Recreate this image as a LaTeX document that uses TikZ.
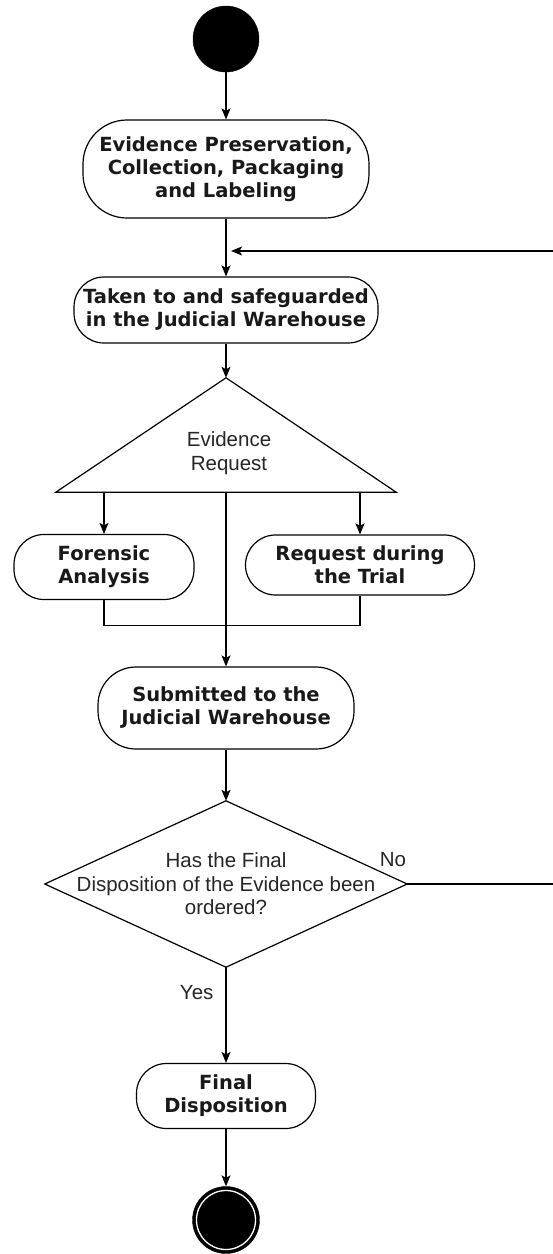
\documentclass[tikz,border=0pt]{standalone}
\usepackage{fontspec}
\newfontfamily\boldface{DejaVu Sans}
\newfontfamily\plainface{Liberation Sans}
\usetikzlibrary{arrows.meta,positioning}
\tikzset{
  act/.style={draw=black,line width=1.2pt,rounded corners=30pt,fill=white,align=center,
    font=\boldface\bfseries\fontsize{19.5}{23}\selectfont,inner sep=0pt,text=black!90},
  plain/.style={font=\plainface\fontsize{20.5}{23.5}\selectfont,align=center,text=black!85,inner sep=0pt},
  arr/.style={-{Stealth[length=11pt,width=9pt,inset=2.5pt]},line width=1.2pt},
  link/.style={line width=1.2pt},
  blob/.style={circle,fill=black,draw=black,inner sep=0pt},
}

\begin{document}
\begin{tikzpicture}[x=1pt,y=-1pt]
  \useasboundingbox[fill=white] (0,0) rectangle (552,1254);
  \node[blob,minimum size=66pt] (start) at (226,39) {};
  \node[act,minimum width=286pt,minimum height=98pt,rounded corners=44pt] (prep) at (226,169) {Evidence Preservation,\\Collection, Packaging\\and Labeling};
  \node[act,minimum width=304pt,minimum height=66pt] (store) at (226,310) {Taken to and safeguarded\\in the Judicial Warehouse};
  \node[inner sep=0pt,minimum width=340pt,minimum height=114pt] (req) at (226,435) {};
  \draw[link,fill=white] (req.south west) -- (req.north) -- (req.south east) -- cycle;
  \node[plain] (reqtxt) at (229,453) {Evidence\\Request};
  \node[act,minimum width=180pt,minimum height=65pt] (fa) at (104,567) {Forensic\\Analysis};
  \node[act,minimum width=229pt,minimum height=60pt] (trial) at (360,565) {Request during\\the Trial};
  \node[act,minimum width=256pt,minimum height=82pt,rounded corners=38pt] (sub) at (226,708) {Submitted to the\\Judicial Warehouse};
  \node[plain,minimum width=362pt,minimum height=166pt] (dec) at (226,884) {Has the Final\\Disposition of the Evidence been\\ordered?};
  \draw[link] (dec.north) -- (dec.east) -- (dec.south) -- (dec.west) -- cycle;
  \node[act,minimum width=179pt,minimum height=65pt] (fd) at (226,1096) {Final\\Disposition};
  \node[blob,minimum size=67pt] (finish) at (226,1220) {};
  \draw[white,line width=1.3pt] (finish.center) circle (29.5pt);
  \node[plain] (no) at (393,860) {No};
  \coordinate (back) at (231,251);
  \draw[arr] (start) -- (prep);
  \draw[arr] (prep) -- (store);
  \draw[arr] (store) -- (req.north);
  \draw[arr] (req.south -| fa.north) -- (fa);
  \draw[arr] (req.south -| trial.north) -- (trial);
  \draw[arr] (req.south) -- (sub);
  \draw[link] (fa.south) -- ++(0,25) -| (trial.south);
  \draw[arr] (sub) -- (dec.north);
  \draw[arr] (dec.south) -- node[plain,left=12pt,pos=.26]{Yes} (fd);
  \draw[arr] (fd) -- (finish);
  \draw[arr] (dec.east) -- ++(170,0) |- (back);
\end{tikzpicture}
\end{document}
